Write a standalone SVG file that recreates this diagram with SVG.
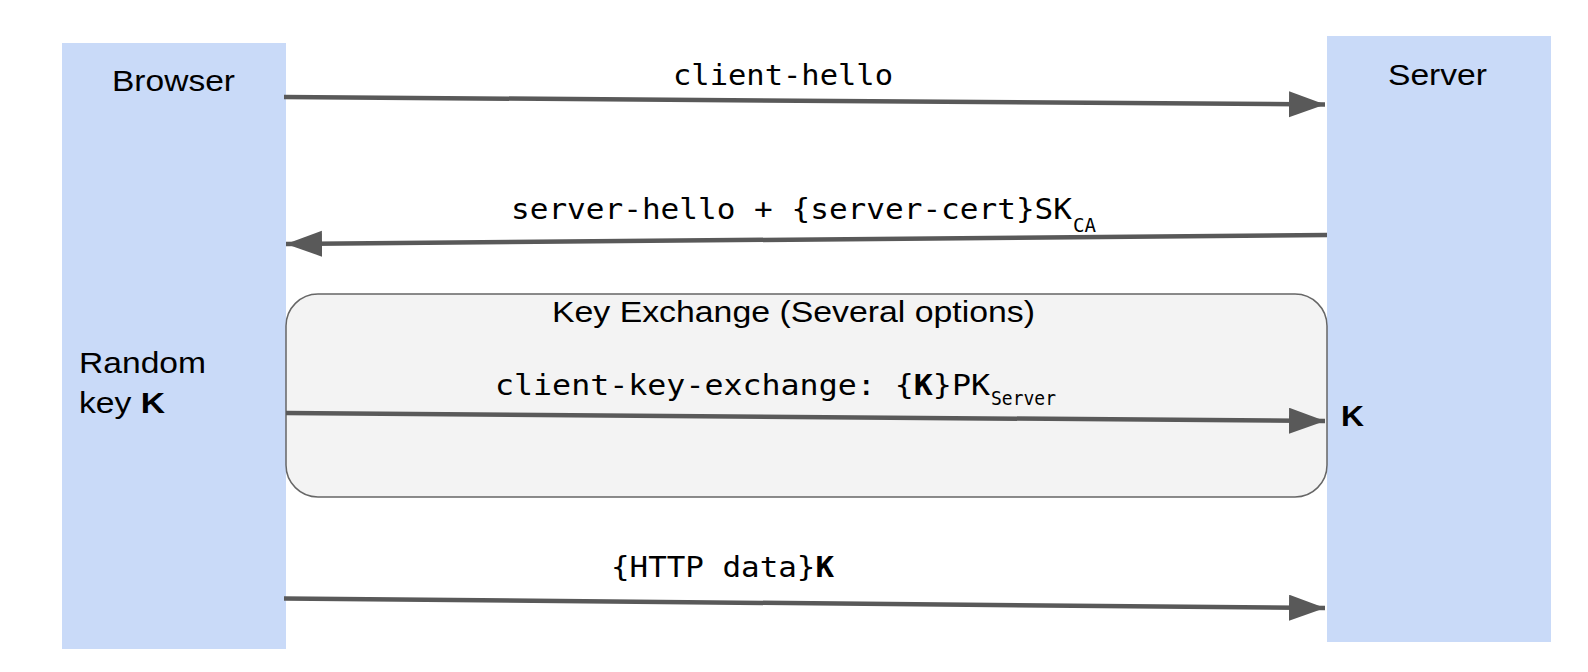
<svg xmlns="http://www.w3.org/2000/svg" width="1588" height="672" viewBox="0 0 1588 672">
<style>
.lane{fill:#c9daf8;stroke:none}
.sans{font-family:"Liberation Sans",Arial,sans-serif;font-size:29px;fill:#000}
.mono{font-family:"DejaVu Sans Mono","Liberation Mono",monospace;font-size:29px;fill:#000}
.sub{font-family:"DejaVu Sans Mono","Liberation Mono",monospace;font-size:19px;fill:#000}
.arrow{stroke:#595959;stroke-width:4.5;fill:none;marker-end:url(#ah)}
</style>
<defs>
<marker id="ah" markerUnits="userSpaceOnUse" markerWidth="40" markerHeight="28" refX="36" refY="13" orient="auto">
<path d="M0,0 L36,13 L0,26 Z" fill="#595959"/>
</marker>
</defs>
<rect width="1588" height="672" fill="#fff"/>
<g id="browser">
<rect class="lane" x="62" y="43" width="224" height="606"/>
<text class="sans" x="112" y="91" textLength="123" lengthAdjust="spacingAndGlyphs">Browser</text>
<text class="sans" x="79" y="373" textLength="127" lengthAdjust="spacingAndGlyphs">Random</text>
<text class="sans" x="79" y="413" textLength="86" lengthAdjust="spacingAndGlyphs">key <tspan font-weight="bold">K</tspan></text>
</g>
<g id="server">
<rect class="lane" x="1327" y="36" width="224" height="606"/>
<text class="sans" x="1388" y="85" textLength="99" lengthAdjust="spacingAndGlyphs">Server</text>
<text class="sans" x="1341" y="426" font-weight="bold" textLength="23" lengthAdjust="spacingAndGlyphs">K</text>
</g>
<g id="key-exchange">
<rect x="286" y="294" width="1041" height="203" rx="32" ry="32" fill="#f3f3f3" stroke="#666" stroke-width="1.5"/>
<text class="sans" x="552" y="322" textLength="483" lengthAdjust="spacingAndGlyphs">Key Exchange (Several options)</text>
</g>
<g id="connectors">
<line class="arrow" x1="284" y1="97" x2="1325" y2="104.5"/>
<line class="arrow" x1="1327" y1="235" x2="286" y2="244"/>
<line class="arrow" x1="286" y1="413" x2="1325" y2="421"/>
<line class="arrow" x1="284" y1="598.5" x2="1325" y2="608"/>
</g>
<g id="labels">
<text class="mono" x="673" y="85" textLength="220" lengthAdjust="spacingAndGlyphs">client-hello</text>
<text class="mono" x="511" y="219" textLength="561" lengthAdjust="spacingAndGlyphs">server-hello + {server-cert}SK</text>
<text class="sub" x="1073" y="232" textLength="23" lengthAdjust="spacingAndGlyphs">CA</text>
<text class="mono" x="495" y="395" textLength="495" lengthAdjust="spacingAndGlyphs">client-key-exchange: {<tspan font-weight="bold">K</tspan>}PK</text>
<text class="sub" x="991" y="405" textLength="65" lengthAdjust="spacingAndGlyphs">Server</text>
<text class="mono" x="611" y="577" textLength="223" lengthAdjust="spacingAndGlyphs">{HTTP data}<tspan font-weight="bold">K</tspan></text>
</g>
</svg>
